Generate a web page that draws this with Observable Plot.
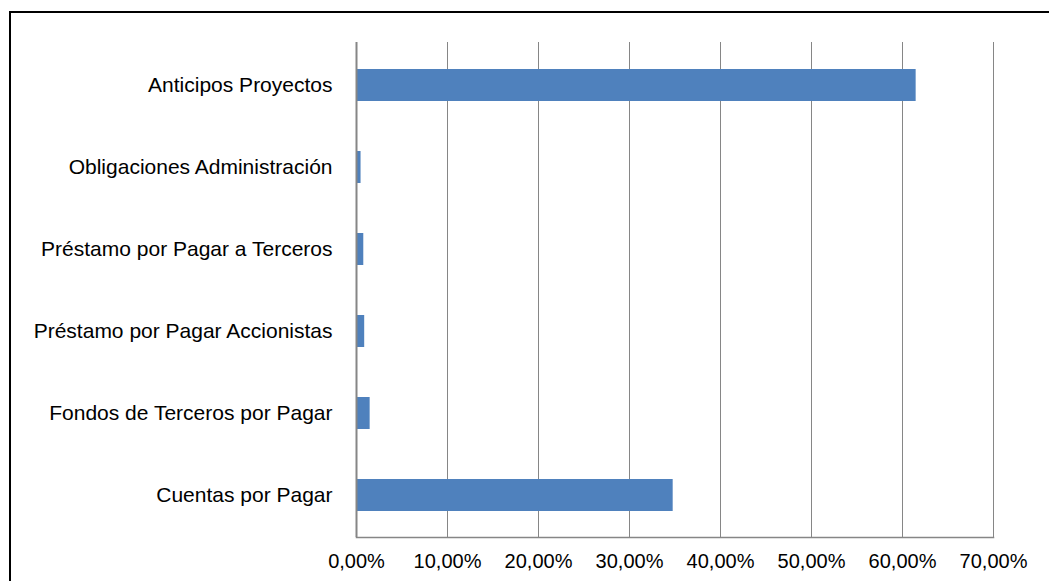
<!DOCTYPE html>
<html>
<head>
<meta charset="utf-8">
<script src="https://cdn.jsdelivr.net/npm/d3@7"></script>
<script src="https://cdn.jsdelivr.net/npm/@observablehq/plot@0.6"></script>
<style>
  html, body { margin: 0; padding: 0; background: #fff; }
  #wrap { position: relative; width: 1049px; height: 581px; overflow: hidden; }
  #border { position: absolute; left: 9px; top: 11px; width: 1100px; height: 700px;
            border-top: 2px solid #000; border-left: 2px solid #000; box-sizing: border-box; }
  #chart { position: absolute; left: 0; top: 0; }
</style>
</head>
<body>
<div id="wrap"><div id="border"></div><div id="chart"></div></div>
<script>
const categories = [
  "Anticipos Proyectos",
  "Obligaciones Administración",
  "Préstamo por Pagar a Terceros",
  "Préstamo por Pagar Accionistas",
  "Fondos de Terceros por Pagar",
  "Cuentas por Pagar"
];
const values = [61.5, 0.5, 0.8, 0.9, 1.5, 34.8];
const xTicks = [0, 10, 20, 30, 40, 50, 60, 70];

const data = categories.map((c, i) => ({category: c, value: values[i]}));
const fmt = d => d.toFixed(2).replace(".", ",") + "%";

const chart = Plot.plot({
  width: 1049,
  height: 581,
  marginLeft: 356,
  marginRight: 56,
  marginTop: 42,
  marginBottom: 44,
  style: {fontFamily: "'Liberation Sans', Arial, sans-serif", fontSize: "21px", color: "#000", background: "transparent"},
  x: {domain: [0, 70], ticks: xTicks},
  y: {domain: categories, paddingInner: 0.61, paddingOuter: 0.305},
  marks: [
    Plot.ruleX(xTicks, {stroke: "#868686", strokeWidth: 1}),
    Plot.frame({anchor: "bottom", stroke: "#868686", strokeWidth: 1.5}),
    Plot.barX(data, {x: "value", y: "category", fill: "#4F81BD"}),
    Plot.ruleX([0], {stroke: "#868686", strokeWidth: 2}),
    Plot.axisX({ticks: xTicks, tickFormat: fmt, tickSize: 0, tickPadding: 16, label: null, fill: "#000", fontSize: 20}),
    Plot.axisY({tickSize: 0, tickPadding: 24, label: null, fill: "#000", fontSize: 21})
  ]
});
document.getElementById("chart").appendChild(chart);
</script>
</body>
</html>
